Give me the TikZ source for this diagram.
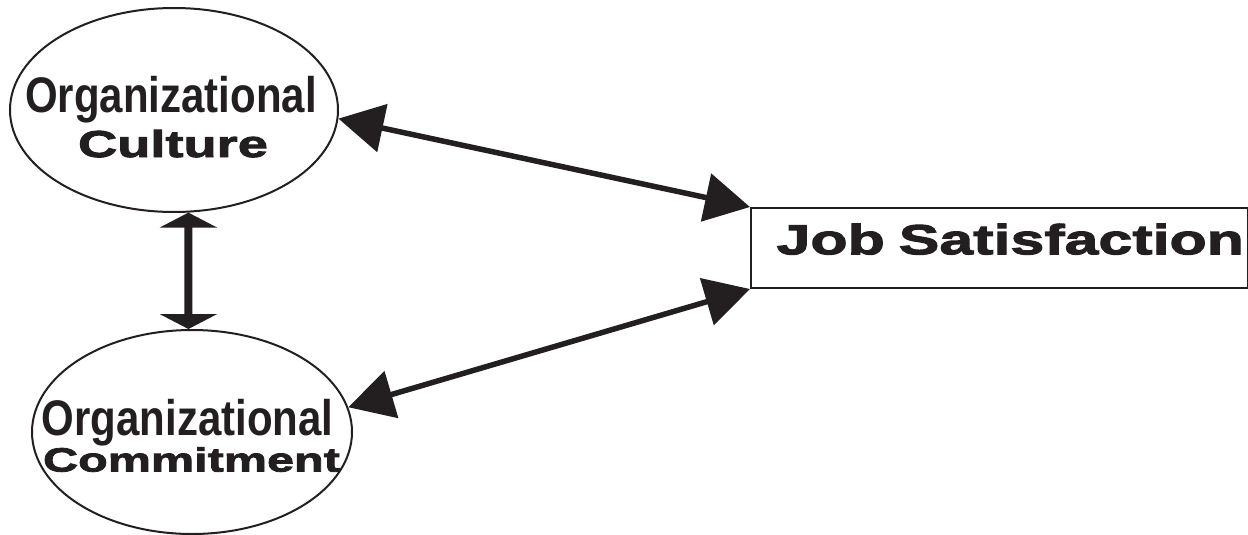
\documentclass[tikz,border=0pt]{standalone}
\usepackage{fontspec}
\usepackage{xcolor}
\definecolor{inkBlack}{RGB}{35,31,32}
\newfontfamily\narrowSans{Liberation Sans Bold}[FakeStretch=0.84]
\newfontfamily\wideSans{Liberation Sans Bold}[FakeStretch=1.45,FakeBold=2.6]
\usepackage{tikz}
\usetikzlibrary{arrows.meta,shapes.geometric}

\tikzset{
  ovalNode/.style={ellipse, draw=inkBlack, line width=2pt, inner sep=0pt,
    minimum width=328pt, minimum height=204pt},
  orgText/.style={font=\narrowSans\fontsize{50}{50}\selectfont, text=inkBlack,
    inner sep=0pt, anchor=base},
  wideText/.style={font=\wideSans\fontsize{#1}{#1}\selectfont, text=inkBlack,
    inner sep=0pt, anchor=base},
  jobBox/.style={rectangle, draw=inkBlack, line width=2pt, minimum width=497pt,
    minimum height=80pt, inner xsep=4pt, text width=489pt, align=right,
    text depth=18pt, font=\wideSans\fontsize{42}{42}\selectfont, text=inkBlack},
  twoWay/.style={{Triangle[length=45pt,width=48pt]}-{Triangle[length=45pt,width=48pt]},
    draw=inkBlack, line width=5.5pt},
  upDown/.style={{Triangle[length=15pt,width=57pt]}-{Triangle[length=15pt,width=57pt]},
    draw=inkBlack, line width=8pt}
}

\begin{document}
\begin{tikzpicture}[x=1pt,y=1pt]
  \useasboundingbox (0,0) rectangle (1248,-535);

  % the two constructs on the left
  \node[ovalNode] (culture) at (174,-110) {};
  \node[ovalNode, minimum width=320pt] (commit) at (192,-432) {};

  \node[orgText] (cultureTop) at ([shift={(-3,-3)}]culture.center) {Organizational};
  \node[wideText=37.4] (cultureBottom) at ([shift={(-1,-47)}]culture.center) {Culture};
  \node[orgText] (commitTop) at ([shift={(-4.5,-3)}]commit.center) {Organizational};
  \node[wideText=33.5] (commitBottom) at ([shift={(-0.5,-39.5)}]commit.center) {Commitment};

  % outcome
  \node[jobBox, anchor=north west] (job) at (750,-207) {Job Satisfaction};

  % links
  \draw[twoWay] (culture.-3) -- (job.north west);
  \draw[twoWay] (commit.9) -- (job.south west);
  \draw[upDown] (culture.-82) -- (commit.92);
\end{tikzpicture}
\end{document}
